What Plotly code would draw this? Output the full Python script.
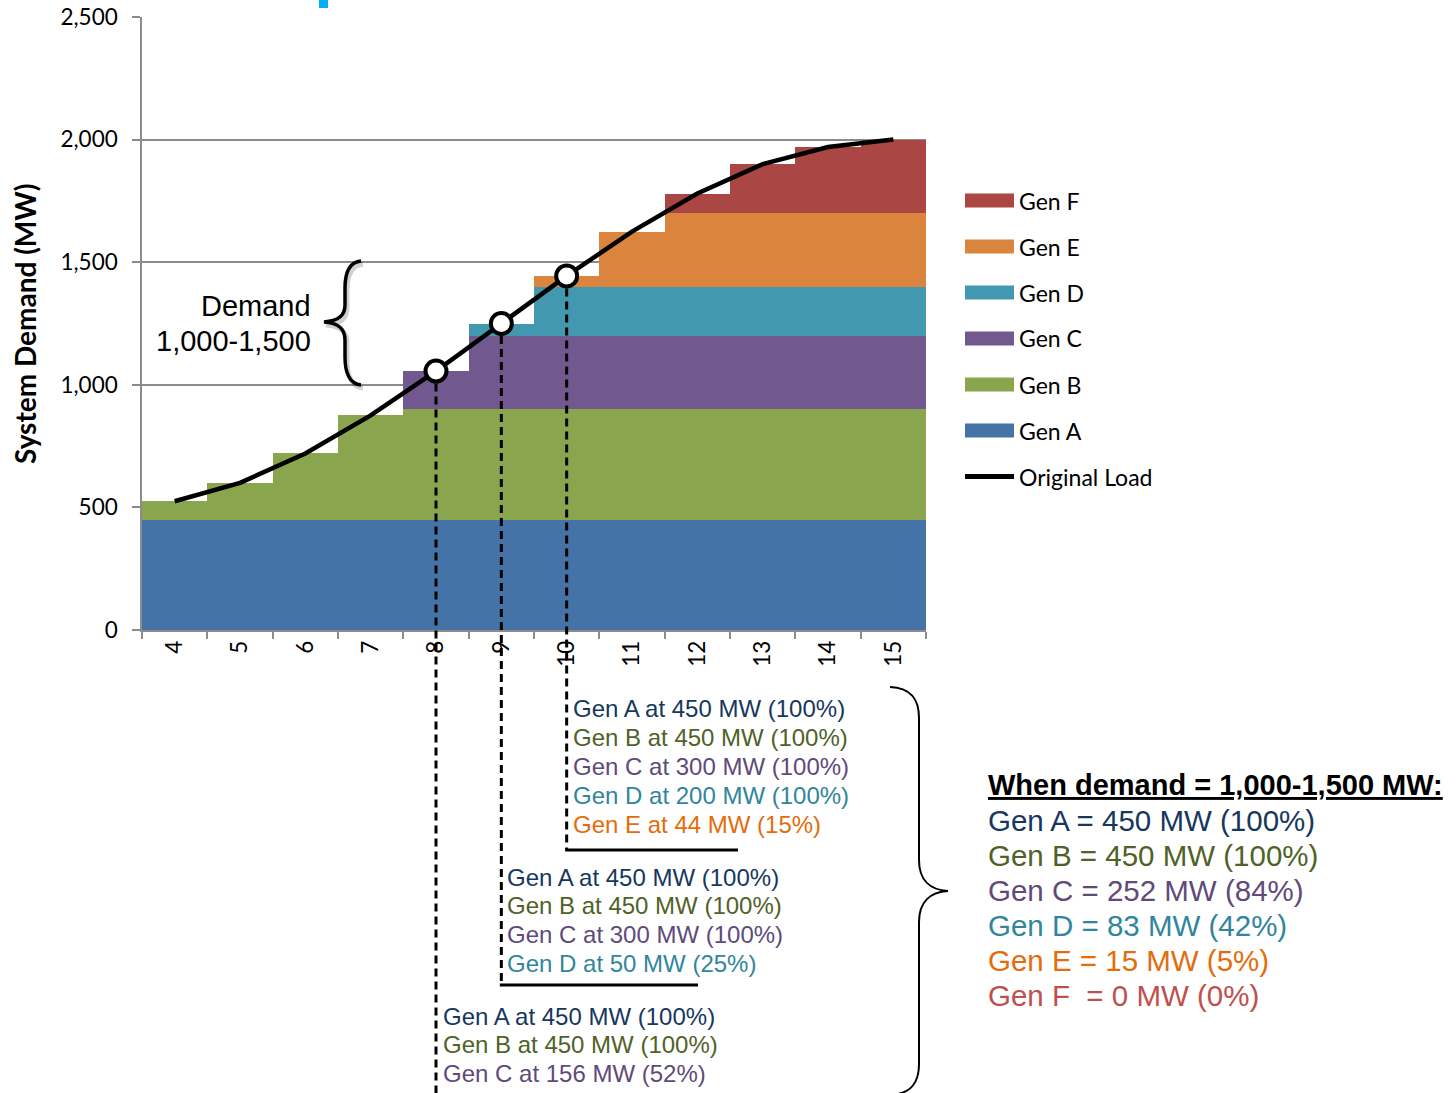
import plotly.graph_objects as go

# ---- data -------------------------------------------------------------
hours = ["4", "5", "6", "7", "8", "9", "10", "11", "12", "13", "14", "15"]

gen_a = [450, 450, 450, 450, 450, 450, 450, 450, 450, 450, 450, 450]
gen_b = [75, 150, 270, 425, 450, 450, 450, 450, 450, 450, 450, 450]
gen_c = [0, 0, 0, 0, 156, 300, 300, 300, 300, 300, 300, 300]
gen_d = [0, 0, 0, 0, 0, 50, 200, 200, 200, 200, 200, 200]
gen_e = [0, 0, 0, 0, 0, 0, 44, 225, 300, 300, 300, 300]
gen_f = [0, 0, 0, 0, 0, 0, 0, 0, 80, 200, 270, 300]

load = [525, 600, 720, 875, 1056, 1250, 1444, 1625, 1780, 1900, 1970, 2000]

gen_names = ["Gen A", "Gen B", "Gen C", "Gen D", "Gen E", "Gen F"]
load_name = "Original Load"

# hours whose dispatch is spelled out below the chart
marked_hours = ["8", "9", "10"]

dispatch_10 = [("Gen A", "Gen A at 450 MW (100%)"),
               ("Gen B", "Gen B at 450 MW (100%)"),
               ("Gen C", "Gen C at 300 MW (100%)"),
               ("Gen D", "Gen D at 200 MW (100%)"),
               ("Gen E", "Gen E at 44 MW (15%)")]
dispatch_9 = [("Gen A", "Gen A at 450 MW (100%)"),
              ("Gen B", "Gen B at 450 MW (100%)"),
              ("Gen C", "Gen C at 300 MW (100%)"),
              ("Gen D", "Gen D at 50 MW (25%)")]
dispatch_8 = [("Gen A", "Gen A at 450 MW (100%)"),
              ("Gen B", "Gen B at 450 MW (100%)"),
              ("Gen C", "Gen C at 156 MW (52%)")]

summary_title = "When demand = 1,000-1,500 MW:"
summary = [("Gen A", "Gen A = 450 MW (100%)"),
           ("Gen B", "Gen B = 450 MW (100%)"),
           ("Gen C", "Gen C = 252 MW (84%)"),
           ("Gen D", "Gen D = 83 MW (42%)"),
           ("Gen E", "Gen E = 15 MW (5%)"),
           ("Gen F", "Gen F\u00a0 = 0 MW (0%)")]

# ---- styling ----------------------------------------------------------
fill = {"Gen A": "#4572A7", "Gen B": "#89A54E", "Gen C": "#71588F",
        "Gen D": "#4198AF", "Gen E": "#DB843D", "Gen F": "#AA4643"}
ink = {"Gen A": "#17375E", "Gen B": "#4F6228", "Gen C": "#604A7B",
       "Gen D": "#31859C", "Gen E": "#E46C0A", "Gen F": "#C0504D"}

W, H = 1456, 1093
L, R, T, B = 142, 926, 17, 630
Y_MAX = 2500
GRID = "#8C8C8C"
CAL = "Lato, Carlito, Calibri, sans-serif"
ARIAL = "Liberation Sans, Arial, sans-serif"


def px(x):
    return (x - L) / (R - L)


def py(y):
    return (B - y) / (B - T)


def cat_x(label):
    i = hours.index(label)
    return (i + 0.5) / len(hours)


fig = go.Figure()

for name, vals in zip(gen_names, [gen_a, gen_b, gen_c, gen_d, gen_e, gen_f]):
    fig.add_trace(go.Bar(x=hours, y=vals, name=name,
                         marker=dict(color=fill[name], line=dict(width=0)),
                         showlegend=False))

fig.add_trace(go.Scatter(x=hours, y=load, mode="lines", name=load_name,
                         line=dict(color="black", width=4.5), showlegend=False))

shapes = []
annotations = []

# dashed drop lines from the highlighted load points
drop_ends = {"8": None, "9": 985, "10": 850}
elbow_ends = {"9": 698, "10": 738}
r_marker = 12.5 / (B - T)
for h in marked_hours:
    v = load[hours.index(h)]
    xp = cat_x(h)
    y_end = drop_ends[h]
    y1 = py(H + 10) if y_end is None else py(y_end)
    shapes.append(dict(type="line", xref="paper", yref="paper",
                       x0=xp, x1=xp, y0=v / Y_MAX - r_marker, y1=y1,
                       line=dict(color="black", width=3, dash="8px,5px")))
    if y_end is not None:
        shapes.append(dict(type="line", xref="paper", yref="paper",
                           x0=xp - 1.5 / (R - L), x1=px(elbow_ends[h]),
                           y0=py(y_end), y1=py(y_end),
                           line=dict(color="black", width=3)))

fig.add_trace(go.Scatter(x=marked_hours,
                         y=[load[hours.index(h)] for h in marked_hours],
                         mode="markers", showlegend=False,
                         marker=dict(symbol="circle", size=21, color="white",
                                     line=dict(color="black", width=4))))


def path_from(points_cmds):
    out = []
    for cmd, pts in points_cmds:
        coords = " ".join(f"{px(x):.5f},{py(y):.5f}" for x, y in pts)
        out.append(f"{cmd}{coords}")
    return " ".join(out)


# small brace next to the 1,000-1,500 band (with soft shadow)
left_brace = [("M", [(361, 261)]),
              ("C", [(350, 262), (345, 272), (345, 288)]),
              ("L", [(345, 305)]),
              ("C", [(345, 316), (338, 321), (324, 322)]),
              ("C", [(338, 323), (345, 328), (345, 340)]),
              ("L", [(345, 357)]),
              ("C", [(345, 373), (350, 384), (361, 385)])]
shadow_brace = [(c, [(x + 2, y + 3) for x, y in p]) for c, p in left_brace]
shapes.append(dict(type="path", xref="paper", yref="paper",
                   path=path_from(shadow_brace),
                   line=dict(color="rgba(0,0,0,0.18)", width=5)))
shapes.append(dict(type="path", xref="paper", yref="paper",
                   path=path_from(left_brace),
                   line=dict(color="black", width=3.5)))

# large brace gathering the three dispatch cases
right_brace = [("M", [(890, 687)]),
               ("C", [(912, 688), (919, 700), (919, 718)]),
               ("L", [(919, 860)]),
               ("C", [(919, 880), (930, 890), (948, 891)]),
               ("C", [(930, 892), (919, 902), (919, 922)]),
               ("L", [(919, 1064)]),
               ("C", [(919, 1082), (912, 1094), (890, 1095)])]
shapes.append(dict(type="path", xref="paper", yref="paper",
                   path=path_from(right_brace),
                   line=dict(color="black", width=2)))

# cyan marker peeking in at the top edge
shapes.append(dict(type="rect", xref="paper", yref="paper",
                   x0=px(319), x1=px(328), y0=py(8), y1=py(-2),
                   fillcolor="#00B0F0", line=dict(width=0)))

# legend drawn by hand: wide swatches like the spreadsheet legend
legend_rows = list(reversed(gen_names)) + [load_name]
for k, name in enumerate(legend_rows):
    yc = 200.5 + 46 * k
    if name in fill:
        shapes.append(dict(type="rect", xref="paper", yref="paper",
                           x0=px(965), x1=px(1014), y0=py(yc + 7), y1=py(yc - 7),
                           fillcolor=fill[name], line=dict(width=0)))
    else:
        shapes.append(dict(type="line", xref="paper", yref="paper",
                           x0=px(965), x1=px(1014), y0=py(yc), y1=py(yc),
                           line=dict(color="black", width=5)))
    annotations.append(dict(text=name, xref="paper", yref="paper",
                            x=px(1017), y=py(yc), xanchor="left", yanchor="middle",
                            showarrow=False, font=dict(family=CAL, size=23, color="black")))

# axis title
annotations.append(dict(text="<b>System Demand (MW)</b>", xref="paper", yref="paper",
                        x=px(25), y=py(324), xanchor="center", yanchor="middle",
                        textangle=-90, showarrow=False,
                        font=dict(family=CAL, size=28, color="black")))

# brace label
for text, yc in [("Demand", 306), ("1,000-1,500", 341)]:
    annotations.append(dict(text=text, xref="paper", yref="paper",
                            x=px(313), y=py(yc), xanchor="right", yanchor="middle",
                            showarrow=False, font=dict(family=ARIAL, size=29, color="black")))

# dispatch lists under each drop line
blocks = [(dispatch_10, 571, 708.5), (dispatch_9, 505, 877), (dispatch_8, 441, 1016)]
for rows, x_left, y_first in blocks:
    for j, (gen, text) in enumerate(rows):
        annotations.append(dict(text=text, xref="paper", yref="paper",
                                x=px(x_left), y=py(y_first + 28.9 * j),
                                xanchor="left", yanchor="middle", showarrow=False,
                                font=dict(family=ARIAL, size=24, color=ink[gen])))

# summary of average output across the band
annotations.append(dict(text=f"<b>{summary_title}</b>", xref="paper", yref="paper",
                        x=px(986), y=py(785), xanchor="left", yanchor="middle",
                        showarrow=False,
                        font=dict(family=ARIAL, size=29, color="black", lineposition="under")))
for j, (gen, text) in enumerate(summary):
    annotations.append(dict(text=text, xref="paper", yref="paper",
                            x=px(986), y=py(820 + 35.2 * j),
                            xanchor="left", yanchor="middle", showarrow=False,
                            font=dict(family=ARIAL, size=29.5, color=ink[gen])))

fig.update_layout(
    width=W, height=H,
    margin=dict(l=L, r=W - R, t=T, b=H - B, pad=0, autoexpand=False),
    paper_bgcolor="white", plot_bgcolor="white",
    barmode="stack", bargap=0,
    showlegend=False,
    shapes=shapes, annotations=annotations,
    xaxis=dict(type="category", tickangle=-90, ticks="outside", tickson="boundaries",
               ticklen=7, tickwidth=1.5, tickcolor=GRID, automargin=False,
               showline=True, linecolor=GRID, linewidth=1.5,
               showgrid=False, tickfont=dict(family=CAL, size=22.5, color="black")),
    yaxis=dict(range=[0, Y_MAX], dtick=500, tickformat=",", ticks="outside",
               ticklen=8, tickwidth=1.5, tickcolor=GRID, automargin=False,
               showline=True, linecolor=GRID, linewidth=1.5,
               showgrid=True, gridcolor=GRID, gridwidth=1.5, zeroline=False,
               ticklabelstandoff=10,
               tickfont=dict(family=CAL, size=22.5, color="black")),
)

fig.write_html("out.html")
